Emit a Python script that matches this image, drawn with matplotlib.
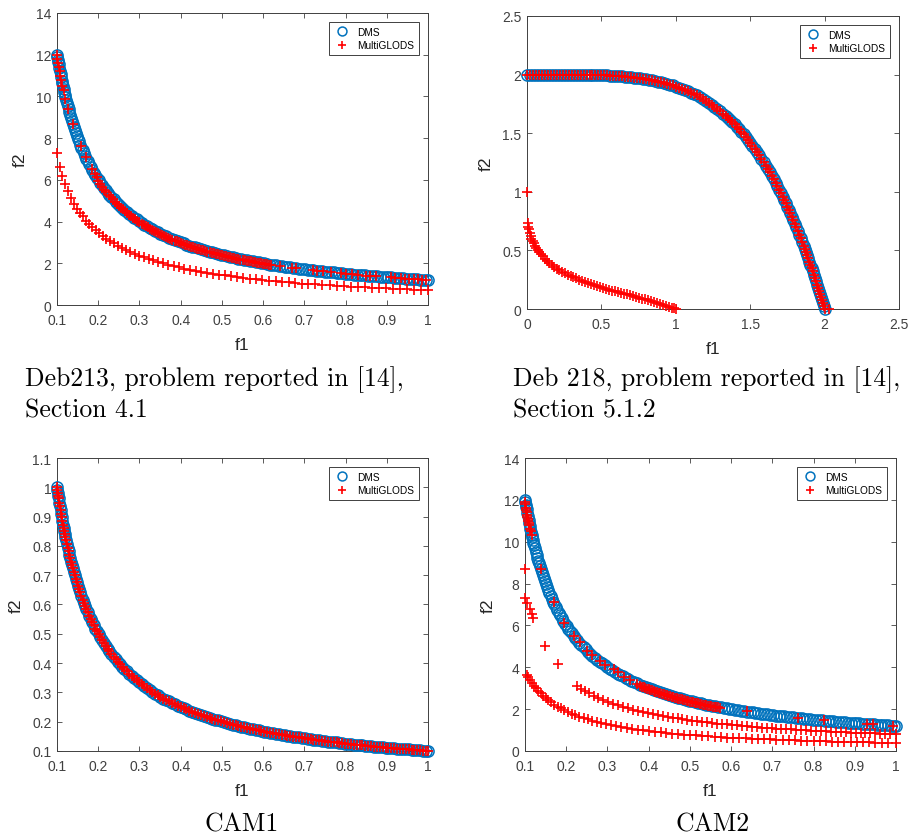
import matplotlib.pyplot as plt
from matplotlib.ticker import FuncFormatter

plt.rcParams['font.family'] = ['Liberation Sans', 'DejaVu Sans']

BLUE = '#0072BD'
RED = '#FF0000'
AX_COL = '#404040'

# ---- Deb213 (its DMS front is the same as CAM2's) ----
deb213_dms_f1 = [0.100, 0.101, 0.102, 0.103, 0.104, 0.1055, 0.107, 0.1085, 0.110, 0.1115,
                 0.113, 0.1145, 0.116, 0.1175, 0.119, 0.1205, 0.122, 0.124, 0.126, 0.128,
                 0.130, 0.132, 0.134, 0.136, 0.138, 0.1405, 0.143, 0.1455, 0.148, 0.1505,
                 0.153, 0.156, 0.159, 0.162, 0.165, 0.168, 0.171, 0.1745, 0.178, 0.1815,
                 0.185, 0.189, 0.193, 0.197, 0.201, 0.205, 0.209, 0.2135, 0.218, 0.2225,
                 0.227, 0.232, 0.237, 0.242, 0.247, 0.2525, 0.258, 0.2635, 0.269, 0.275,
                 0.281, 0.287, 0.293, 0.299, 0.305, 0.3115, 0.318, 0.3245, 0.331, 0.3375,
                 0.344, 0.351, 0.358, 0.365, 0.372, 0.379, 0.386, 0.393, 0.400, 0.407,
                 0.414, 0.421, 0.428, 0.435, 0.442, 0.449, 0.456, 0.463, 0.470, 0.477,
                 0.484, 0.491, 0.498, 0.505, 0.512, 0.519, 0.526, 0.533, 0.540, 0.547,
                 0.554, 0.561, 0.568, 0.575, 0.582, 0.589, 0.596, 0.603, 0.610, 0.617,
                 0.624, 0.631, 0.638, 0.645, 0.652, 0.659, 0.666, 0.673, 0.680, 0.687,
                 0.694, 0.701, 0.708, 0.715, 0.722, 0.729, 0.736, 0.743, 0.750, 0.757,
                 0.764, 0.771, 0.778, 0.785, 0.792, 0.799, 0.806, 0.813, 0.820, 0.827,
                 0.834, 0.841, 0.848, 0.855, 0.862, 0.869, 0.876, 0.883, 0.890, 0.897,
                 0.904, 0.911, 0.918, 0.925, 0.932, 0.939, 0.946, 0.953, 0.960, 0.967,
                 0.974, 0.981, 0.988, 0.995, 1.000]
deb213_dms_f2 = [12.00, 11.88, 11.76, 11.65, 11.54, 11.37, 11.21, 11.06, 10.91, 10.76,
                 10.62, 10.48, 10.34, 10.21, 10.08, 9.96, 9.84, 9.68, 9.52, 9.38,
                 9.23, 9.09, 8.96, 8.82, 8.70, 8.54, 8.39, 8.25, 8.11, 7.97,
                 7.84, 7.69, 7.55, 7.41, 7.27, 7.14, 7.02, 6.88, 6.74, 6.61,
                 6.49, 6.35, 6.22, 6.09, 5.97, 5.85, 5.74, 5.62, 5.50, 5.39,
                 5.29, 5.17, 5.06, 4.96, 4.86, 4.75, 4.65, 4.55, 4.46, 4.36,
                 4.27, 4.18, 4.10, 4.01, 3.93, 3.85, 3.77, 3.70, 3.63, 3.56,
                 3.49, 3.42, 3.35, 3.29, 3.23, 3.17, 3.11, 3.05, 3.00, 2.95,
                 2.90, 2.85, 2.80, 2.76, 2.71, 2.67, 2.63, 2.59, 2.55, 2.52,
                 2.48, 2.44, 2.41, 2.38, 2.34, 2.31, 2.28, 2.25, 2.22, 2.19,
                 2.17, 2.14, 2.11, 2.09, 2.06, 2.04, 2.01, 1.99, 1.97, 1.94,
                 1.92, 1.90, 1.88, 1.86, 1.84, 1.82, 1.80, 1.78, 1.76, 1.75,
                 1.73, 1.71, 1.69, 1.68, 1.66, 1.65, 1.63, 1.62, 1.60, 1.59,
                 1.57, 1.56, 1.54, 1.53, 1.52, 1.50, 1.49, 1.48, 1.46, 1.45,
                 1.44, 1.43, 1.42, 1.40, 1.39, 1.38, 1.37, 1.36, 1.35, 1.34,
                 1.33, 1.32, 1.31, 1.30, 1.29, 1.28, 1.27, 1.26, 1.25, 1.24,
                 1.23, 1.22, 1.21, 1.21, 1.20]

deb213_mg_front_f1 = [0.100, 0.101, 0.102, 0.104, 0.106, 0.108, 0.110, 0.113, 0.116, 0.120,
                      0.127, 0.138, 0.158, 0.170, 0.185, 0.192, 0.196,
                      0.200, 0.205, 0.210, 0.215, 0.220, 0.225, 0.230, 0.235, 0.240, 0.245,
                      0.250, 0.255, 0.260, 0.265, 0.270, 0.275, 0.280, 0.285, 0.290, 0.295,
                      0.300, 0.305, 0.310, 0.315, 0.320, 0.325, 0.330, 0.335, 0.340, 0.345,
                      0.350, 0.355, 0.360, 0.365, 0.370, 0.375, 0.380, 0.385, 0.390, 0.395,
                      0.400, 0.405, 0.410, 0.415, 0.420, 0.425, 0.430, 0.435, 0.440, 0.445,
                      0.450, 0.455, 0.460, 0.465, 0.470, 0.475, 0.480, 0.485, 0.490, 0.495,
                      0.500, 0.505, 0.510, 0.515, 0.520, 0.525, 0.530, 0.535, 0.540, 0.545,
                      0.550, 0.555, 0.560, 0.565, 0.570, 0.575, 0.580, 0.585, 0.590, 0.595,
                      0.600, 0.605, 0.610, 0.615, 0.620,
                      0.64, 0.67, 0.68, 0.72, 0.73, 0.745, 0.765, 0.79, 0.80, 0.815,
                      0.83, 0.85, 0.86, 0.875, 0.91, 0.92, 0.935, 0.945, 0.955, 0.965,
                      0.975, 0.985, 0.995]
deb213_mg_front_f2 = [12.0, 11.8, 11.6, 11.4, 11.2, 11.0, 10.8, 10.5, 10.3, 9.9,
                      9.4, 8.7, 7.6, 7.1, 6.5, 6.3, 6.15,
                      5.95, 5.80, 5.67, 5.53, 5.41, 5.29, 5.17, 5.06, 4.96, 4.86,
                      4.76, 4.67, 4.58, 4.49, 4.41, 4.33, 4.25, 4.18, 4.10, 4.03,
                      3.97, 3.90, 3.84, 3.78, 3.72, 3.66, 3.61, 3.55, 3.50, 3.45,
                      3.40, 3.35, 3.31, 3.26, 3.22, 3.17, 3.13, 3.09, 3.05, 3.01,
                      2.98, 2.94, 2.90, 2.87, 2.83, 2.80, 2.77, 2.74, 2.70, 2.67,
                      2.64, 2.62, 2.59, 2.56, 2.53, 2.51, 2.48, 2.45, 2.43, 2.40,
                      2.38, 2.36, 2.33, 2.31, 2.29, 2.27, 2.25, 2.22, 2.20, 2.18,
                      2.16, 2.14, 2.13, 2.11, 2.09, 2.07, 2.05, 2.03, 2.02, 2.00,
                      1.98, 1.97, 1.95, 1.93, 1.92,
                      1.88, 1.79, 1.76, 1.67, 1.64, 1.61, 1.57, 1.52, 1.50, 1.47,
                      1.45, 1.41, 1.40, 1.37, 1.32, 1.30, 1.28, 1.27, 1.26, 1.24,
                      1.23, 1.22, 1.21]

deb213_mg_low_f1 = [0.100, 0.106, 0.113, 0.120, 0.127, 0.134, 0.141, 0.148, 0.155, 0.162,
                    0.170, 0.178, 0.186, 0.194, 0.202, 0.211, 0.220, 0.229, 0.238, 0.248,
                    0.258, 0.268, 0.278, 0.289, 0.300, 0.311, 0.322, 0.334, 0.346, 0.358,
                    0.370, 0.383, 0.396, 0.409, 0.422, 0.436, 0.450, 0.464, 0.478, 0.492,
                    0.507, 0.522, 0.537, 0.552, 0.567, 0.582, 0.598, 0.614, 0.630, 0.646,
                    0.662, 0.678, 0.694, 0.710, 0.727, 0.744, 0.761, 0.778, 0.795, 0.812,
                    0.829, 0.846, 0.863, 0.880, 0.897, 0.914, 0.931, 0.948, 0.965, 0.982,
                    1.000]
deb213_mg_low_f2 = [7.30, 6.60, 6.20, 5.80, 5.45, 5.15, 4.85, 4.62, 4.42, 4.25,
                    4.05, 3.88, 3.72, 3.58, 3.44, 3.30, 3.17, 3.06, 2.95, 2.84,
                    2.74, 2.64, 2.55, 2.46, 2.37, 2.29, 2.21, 2.14, 2.07, 2.00,
                    1.94, 1.87, 1.81, 1.75, 1.70, 1.65, 1.60, 1.55, 1.50, 1.46,
                    1.42, 1.38, 1.34, 1.30, 1.27, 1.24, 1.20, 1.17, 1.14, 1.11,
                    1.08, 1.06, 1.03, 1.01, 0.99, 0.96, 0.94, 0.92, 0.90, 0.88,
                    0.86, 0.85, 0.83, 0.81, 0.80, 0.78, 0.77, 0.75, 0.74, 0.73,
                    0.72]

# ---- Deb218 ----
deb218_dms_f1 = [0.00, 0.02, 0.04, 0.06, 0.08, 0.10, 0.12, 0.14, 0.16, 0.18,
                 0.20, 0.22, 0.24, 0.26, 0.28, 0.30, 0.32, 0.34, 0.36, 0.38,
                 0.40, 0.42, 0.44, 0.46, 0.48, 0.50, 0.52, 0.54, 0.56, 0.58,
                 0.60, 0.62, 0.64, 0.66, 0.68, 0.70, 0.72, 0.74, 0.76, 0.78,
                 0.80, 0.82, 0.84, 0.86, 0.88, 0.90, 0.92, 0.94, 0.96, 0.98,
                 1.00, 1.02, 1.04, 1.06, 1.08, 1.10, 1.12, 1.14, 1.16, 1.18,
                 1.20, 1.22, 1.24, 1.26, 1.28, 1.30, 1.32, 1.335, 1.35, 1.365,
                 1.38, 1.395, 1.41, 1.425, 1.44, 1.455, 1.47, 1.485, 1.50, 1.515,
                 1.53, 1.545, 1.56, 1.575, 1.59, 1.605, 1.62, 1.6325, 1.645, 1.6575,
                 1.67, 1.6825, 1.695, 1.7075, 1.72, 1.73, 1.74, 1.75, 1.76, 1.77,
                 1.78, 1.79, 1.80, 1.81, 1.82, 1.83, 1.84, 1.85, 1.86, 1.8675,
                 1.875, 1.8825, 1.89, 1.8975, 1.905, 1.9125, 1.92, 1.9275, 1.935, 1.9425,
                 1.95, 1.9565, 1.963, 1.9695, 1.976, 1.982, 1.988, 1.994, 2.000]
deb218_dms_f2 = [2.000, 2.000, 2.000, 2.000, 2.000, 2.000, 2.000, 2.000, 2.000, 2.000,
                 2.000, 2.000, 2.000, 2.000, 2.000, 1.999, 1.999, 1.999, 1.999, 1.998,
                 1.998, 1.998, 1.997, 1.996, 1.996, 1.995, 1.994, 1.993, 1.992, 1.990,
                 1.989, 1.987, 1.985, 1.983, 1.981, 1.978, 1.975, 1.972, 1.969, 1.965,
                 1.961, 1.957, 1.952, 1.947, 1.941, 1.935, 1.929, 1.922, 1.915, 1.907,
                 1.898, 1.889, 1.880, 1.870, 1.859, 1.847, 1.835, 1.822, 1.808, 1.793,
                 1.778, 1.761, 1.744, 1.726, 1.707, 1.686, 1.666, 1.648, 1.631, 1.613,
                 1.595, 1.575, 1.555, 1.534, 1.513, 1.491, 1.468, 1.444, 1.420, 1.394,
                 1.368, 1.341, 1.313, 1.284, 1.254, 1.224, 1.192, 1.165, 1.137, 1.108,
                 1.079, 1.049, 1.018, 0.987, 0.954, 0.928, 0.901, 0.874, 0.846, 0.817,
                 0.788, 0.759, 0.729, 0.698, 0.667, 0.635, 0.603, 0.570, 0.536, 0.511,
                 0.485, 0.459, 0.432, 0.405, 0.378, 0.350, 0.322, 0.294, 0.265, 0.236,
                 0.206, 0.180, 0.154, 0.128, 0.101, 0.076, 0.051, 0.026, 0.000]

# MultiGLODS finds the same front, plus one point just past f1 = 2
deb218_mg_front_f1 = deb218_dms_f1 + [2.03]
deb218_mg_front_f2 = deb218_dms_f2 + [0.0]

deb218_mg_low_f1 = [0.000, 0.004, 0.008, 0.013, 0.018, 0.024, 0.030, 0.037, 0.045, 0.053,
                    0.062, 0.072, 0.083, 0.095, 0.108, 0.121, 0.135, 0.150, 0.166, 0.182,
                    0.200, 0.218, 0.236, 0.255, 0.274, 0.293, 0.312, 0.332, 0.352, 0.372,
                    0.392, 0.412, 0.432, 0.452, 0.472, 0.492, 0.512, 0.532, 0.552, 0.572,
                    0.592, 0.612, 0.632, 0.652, 0.672, 0.692, 0.712, 0.732, 0.752, 0.772,
                    0.792, 0.812, 0.832, 0.852, 0.872, 0.892, 0.912, 0.932, 0.952, 0.972,
                    0.990, 1.000]
deb218_mg_low_f2 = [1.000, 0.730, 0.700, 0.680, 0.650, 0.620, 0.600, 0.580, 0.560, 0.540,
                    0.520, 0.500, 0.485, 0.468, 0.450, 0.430, 0.412, 0.395, 0.375, 0.358,
                    0.342, 0.330, 0.318, 0.306, 0.294, 0.284, 0.272, 0.262, 0.251, 0.240,
                    0.231, 0.221, 0.212, 0.203, 0.195, 0.188, 0.181, 0.173, 0.166, 0.158,
                    0.151, 0.145, 0.138, 0.131, 0.124, 0.117, 0.110, 0.103, 0.096, 0.089,
                    0.082, 0.075, 0.067, 0.060, 0.052, 0.044, 0.036, 0.028, 0.020, 0.012,
                    0.005, 0.000]

# ---- CAM1 (MultiGLODS lies on the DMS front) ----
cam1_dms_f1 = deb213_dms_f1
cam1_dms_f2 = [1.000, 0.990, 0.980, 0.971, 0.962, 0.948, 0.935, 0.922, 0.909, 0.897,
               0.885, 0.873, 0.862, 0.851, 0.840, 0.830, 0.820, 0.806, 0.794, 0.781,
               0.769, 0.758, 0.746, 0.735, 0.725, 0.712, 0.699, 0.687, 0.676, 0.664,
               0.654, 0.641, 0.629, 0.617, 0.606, 0.595, 0.585, 0.573, 0.562, 0.551,
               0.541, 0.529, 0.518, 0.508, 0.498, 0.488, 0.478, 0.468, 0.459, 0.449,
               0.441, 0.431, 0.422, 0.413, 0.405, 0.396, 0.388, 0.380, 0.372, 0.364,
               0.356, 0.348, 0.341, 0.334, 0.328, 0.321, 0.314, 0.308, 0.302, 0.296,
               0.291, 0.285, 0.279, 0.274, 0.269, 0.264, 0.259, 0.254, 0.250, 0.246,
               0.242, 0.238, 0.234, 0.230, 0.226, 0.223, 0.219, 0.216, 0.213, 0.210,
               0.207, 0.204, 0.201, 0.198, 0.195, 0.193, 0.190, 0.188, 0.185, 0.183,
               0.181, 0.178, 0.176, 0.174, 0.172, 0.170, 0.168, 0.166, 0.164, 0.162,
               0.160, 0.158, 0.157, 0.155, 0.153, 0.152, 0.150, 0.149, 0.147, 0.146,
               0.144, 0.143, 0.141, 0.140, 0.139, 0.137, 0.136, 0.135, 0.133, 0.132,
               0.131, 0.130, 0.129, 0.127, 0.126, 0.125, 0.124, 0.123, 0.122, 0.121,
               0.120, 0.119, 0.118, 0.117, 0.116, 0.115, 0.114, 0.113, 0.112, 0.111,
               0.111, 0.110, 0.109, 0.108, 0.107, 0.106, 0.106, 0.105, 0.104, 0.103,
               0.103, 0.102, 0.101, 0.101, 0.100]
cam1_mg_f1 = cam1_dms_f1
cam1_mg_f2 = cam1_dms_f2

# ---- CAM2 ----
cam2_dms_f1 = deb213_dms_f1
cam2_dms_f2 = deb213_dms_f2

cam2_mg_front_f1 = [0.100, 0.101, 0.102, 0.103, 0.104, 0.105, 0.106, 0.107, 0.108, 0.109,
                    0.110, 0.112, 0.114, 0.116,
                    0.138, 0.170, 0.195, 0.220, 0.233, 0.250, 0.262, 0.282, 0.293, 0.315,
                    0.325, 0.340, 0.355, 0.372,
                    0.380, 0.384, 0.388, 0.392, 0.396, 0.400, 0.404, 0.408, 0.412, 0.416,
                    0.420, 0.424, 0.428, 0.432, 0.436, 0.440, 0.444, 0.448, 0.452, 0.456,
                    0.460, 0.464, 0.468, 0.472, 0.476, 0.480, 0.484, 0.488, 0.492, 0.496,
                    0.500, 0.504, 0.508, 0.512, 0.516, 0.520, 0.524, 0.528, 0.532, 0.536,
                    0.540, 0.544, 0.548, 0.552, 0.556, 0.560, 0.564, 0.568, 0.572,
                    0.638, 0.763, 0.826, 0.929, 0.945, 0.992]
cam2_mg_front_f2 = [11.9, 11.8, 11.6, 11.5, 11.4, 11.3, 11.2, 11.1, 11.0, 10.9,
                    10.8, 10.6, 10.5, 10.3,
                    8.70, 7.10, 6.10, 5.50, 5.20, 4.80, 4.60, 4.30, 4.10, 3.90,
                    3.75, 3.55, 3.40, 3.20,
                    3.11, 3.07, 3.04, 3.01, 2.98, 2.95, 2.92, 2.89, 2.86, 2.84,
                    2.81, 2.78, 2.76, 2.73, 2.71, 2.68, 2.66, 2.63, 2.61, 2.59,
                    2.57, 2.54, 2.52, 2.50, 2.48, 2.46, 2.44, 2.42, 2.40, 2.38,
                    2.36, 2.34, 2.32, 2.30, 2.29, 2.27, 2.25, 2.23, 2.22, 2.20,
                    2.19, 2.17, 2.15, 2.14, 2.12, 2.11, 2.09, 2.08, 2.06,
                    1.90, 1.59, 1.46, 1.29, 1.28, 1.21]
cam2_mg_stray_f1 = [0.101, 0.100, 0.106, 0.112, 0.116, 0.120, 0.149, 0.181]
cam2_mg_stray_f2 = [8.70, 7.30, 7.05, 6.80, 6.55, 6.35, 5.00, 4.15]

cam2_mg_mid_f1 = [0.225, 0.235, 0.245, 0.256, 0.267, 0.278, 0.290, 0.302, 0.314, 0.326,
                  0.338, 0.350, 0.362, 0.374, 0.386, 0.398, 0.410, 0.422, 0.434, 0.446,
                  0.458, 0.470, 0.482, 0.494, 0.506, 0.518, 0.530, 0.542, 0.554, 0.566,
                  0.578, 0.590, 0.602, 0.614, 0.626, 0.638, 0.650, 0.662, 0.674, 0.686,
                  0.698, 0.710, 0.722, 0.734, 0.746, 0.758, 0.770, 0.782, 0.794, 0.806,
                  0.818, 0.830, 0.842, 0.854, 0.866, 0.878, 0.890, 0.902, 0.914, 0.926,
                  0.938, 0.950, 0.962, 0.974, 0.986, 1.000]
cam2_mg_mid_f2 = [3.11, 2.98, 2.87, 2.75, 2.64, 2.54, 2.44, 2.35, 2.26, 2.19,
                  2.11, 2.05, 1.98, 1.92, 1.87, 1.81, 1.77, 1.72, 1.67, 1.63,
                  1.59, 1.56, 1.52, 1.49, 1.45, 1.42, 1.39, 1.37, 1.34, 1.31,
                  1.29, 1.27, 1.24, 1.22, 1.20, 1.18, 1.16, 1.14, 1.12, 1.11,
                  1.09, 1.07, 1.06, 1.04, 1.03, 1.01, 1.00, 0.99, 0.97, 0.96,
                  0.95, 0.94, 0.93, 0.91, 0.90, 0.89, 0.88, 0.87, 0.86, 0.85,
                  0.84, 0.84, 0.83, 0.82, 0.81, 0.80]

cam2_mg_low_f1 = [0.104, 0.108, 0.112, 0.117, 0.122, 0.127, 0.132, 0.138, 0.144, 0.150,
                  0.157, 0.164, 0.171, 0.179, 0.187, 0.195, 0.204, 0.213, 0.222, 0.232,
                  0.242, 0.252, 0.263, 0.274, 0.285, 0.297, 0.309, 0.321, 0.334, 0.347,
                  0.360, 0.373, 0.387, 0.401, 0.415, 0.429, 0.443, 0.457, 0.471, 0.485,
                  0.500, 0.515, 0.530, 0.545, 0.560, 0.575, 0.590, 0.605, 0.620, 0.635,
                  0.650, 0.665, 0.680, 0.695, 0.710, 0.725, 0.740, 0.755, 0.770, 0.785,
                  0.800, 0.815, 0.830, 0.845, 0.860, 0.875, 0.890, 0.905, 0.920, 0.935,
                  0.950, 0.965, 0.980, 1.000]
cam2_mg_low_f2 = [3.65, 3.52, 3.39, 3.25, 3.11, 2.99, 2.88, 2.75, 2.64, 2.53,
                  2.42, 2.32, 2.22, 2.12, 2.03, 1.95, 1.86, 1.78, 1.71, 1.64,
                  1.57, 1.51, 1.44, 1.39, 1.33, 1.28, 1.23, 1.18, 1.14, 1.10,
                  1.06, 1.02, 0.98, 0.95, 0.92, 0.89, 0.86, 0.83, 0.81, 0.78,
                  0.76, 0.74, 0.72, 0.70, 0.68, 0.66, 0.64, 0.63, 0.61, 0.60,
                  0.58, 0.57, 0.56, 0.55, 0.54, 0.52, 0.51, 0.50, 0.49, 0.48,
                  0.48, 0.47, 0.46, 0.45, 0.44, 0.43, 0.43, 0.42, 0.41, 0.41,
                  0.40, 0.39, 0.39, 0.38]

x_ticks_01 = [0.1, 0.2, 0.3, 0.4, 0.5, 0.6, 0.7, 0.8, 0.9, 1.0]
x_ticks_deb218 = [0, 0.5, 1, 1.5, 2, 2.5]
y_ticks_14 = [0, 2, 4, 6, 8, 10, 12, 14]
y_ticks_deb218 = [0, 0.5, 1, 1.5, 2, 2.5]
y_ticks_cam1 = [0.1, 0.2, 0.3, 0.4, 0.5, 0.6, 0.7, 0.8, 0.9, 1.0, 1.1]


def draw_panel(ax, dms_x, dms_y, mg_x, mg_y, xticks, yticks):
    ax.plot(dms_x, dms_y, ls='none', marker='o', ms=8, mfc='none', mec=BLUE,
            mew=1.1, clip_on=False, label='DMS', zorder=3)
    ax.plot(mg_x, mg_y, ls='none', marker='+', ms=6.5, mec=RED, mew=1.2,
            clip_on=False, label='MultiGLODS', zorder=4)
    ax.set_xlim(xticks[0], xticks[-1])
    ax.set_ylim(yticks[0], yticks[-1])
    ax.set_xticks(xticks)
    ax.set_yticks(yticks)
    fmt = FuncFormatter(lambda v, p: '%g' % round(v, 3))
    ax.xaxis.set_major_formatter(fmt)
    ax.yaxis.set_major_formatter(fmt)
    ax.tick_params(direction='in', top=True, right=True, length=3.5, width=0.6,
                   labelsize=10, colors=AX_COL)
    ax.tick_params(axis='x', pad=6)
    ax.tick_params(axis='y', pad=4)
    for s in ax.spines.values():
        s.set_color(AX_COL)
        s.set_linewidth(0.7)
    ax.set_xlabel('f1', fontsize=12.5, color='#262626', labelpad=7)
    ax.set_ylabel('f2', fontsize=12.5, color='#262626', labelpad=6)
    leg = ax.legend(loc='upper right', fontsize=7.3, frameon=True, fancybox=False,
                    edgecolor=AX_COL, framealpha=1, borderpad=0.45, labelspacing=0.35,
                    handlelength=1.6, handletextpad=0.7, borderaxespad=0.9,
                    markerscale=0.8)
    leg.get_frame().set_linewidth(0.7)


fig = plt.figure(figsize=(9.14, 8.37), dpi=100)

ax1 = fig.add_axes([0.0624, 0.6344, 0.4059, 0.3489])
draw_panel(ax1, deb213_dms_f1, deb213_dms_f2,
           deb213_mg_front_f1 + deb213_mg_low_f1, deb213_mg_front_f2 + deb213_mg_low_f2,
           x_ticks_01, y_ticks_14)

ax2 = fig.add_axes([0.5766, 0.6296, 0.4070, 0.3501])
draw_panel(ax2, deb218_dms_f1, deb218_dms_f2,
           deb218_mg_front_f1 + deb218_mg_low_f1, deb218_mg_front_f2 + deb218_mg_low_f2,
           x_ticks_deb218, y_ticks_deb218)

ax3 = fig.add_axes([0.0624, 0.1016, 0.4059, 0.3500])
draw_panel(ax3, cam1_dms_f1, cam1_dms_f2, cam1_mg_f1, cam1_mg_f2,
           x_ticks_01, y_ticks_cam1)

ax4 = fig.add_axes([0.5744, 0.1016, 0.4059, 0.3500])
draw_panel(ax4, cam2_dms_f1, cam2_dms_f2,
           cam2_mg_front_f1 + cam2_mg_stray_f1 + cam2_mg_mid_f1 + cam2_mg_low_f1,
           cam2_mg_front_f2 + cam2_mg_stray_f2 + cam2_mg_mid_f2 + cam2_mg_low_f2,
           x_ticks_01, y_ticks_14)

cap = dict(fontfamily='cmr10', fontsize=18.5, color='black', va='baseline')
fig.text(0.0274, 1 - 386 / 837, 'Deb213, problem reported in [14],', ha='left', **cap)
fig.text(0.0274, 1 - 418 / 837, 'Section 4.1', ha='left', **cap)
fig.text(0.5613, 1 - 386 / 837, 'Deb 218, problem reported in [14],', ha='left', **cap)
fig.text(0.5613, 1 - 418 / 837, 'Section 5.1.2', ha='left', **cap)
fig.text(242 / 914, 1 - 832 / 837, 'CAM1', ha='center', **cap)
fig.text(713 / 914, 1 - 832 / 837, 'CAM2', ha='center', **cap)

fig.savefig('out.png', dpi=100)
